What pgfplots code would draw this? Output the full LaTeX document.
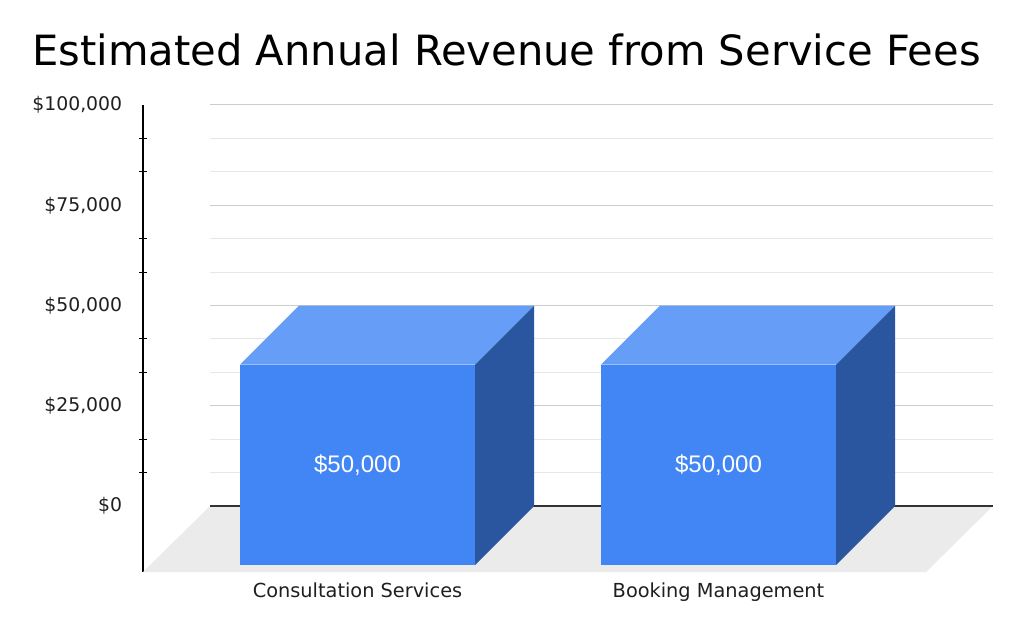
\documentclass[border=0pt]{standalone}
\usepackage{pgfplots}
\pgfplotsset{compat=1.18}
\usepackage{fontspec}
\setmainfont{DejaVu Sans}
\newfontfamily\barfont{Liberation Sans}
\definecolor{frontc}{HTML}{4285F4}
\definecolor{topc}{HTML}{669DF6}
\definecolor{sidec}{HTML}{2A56A0}
\definecolor{floorc}{HTML}{EBEBEB}
\definecolor{majgrid}{HTML}{CCCCCC}
\definecolor{mingrid}{HTML}{E6E6E6}
% projection: x = front-plane pixel column, d = depth (0 front, 1 back wall), z = value
\pgfplotsset{/pgfplots/table/proj/.style={x expr=\thisrow{x}+59*\thisrow{d}, y expr=\thisrow{z}-14713*(1-\thisrow{d}), row sep=\\}}
\begin{document}
\begin{tikzpicture}
% back wall with grid
\begin{axis}[
  at={(50.25pt,49.5pt)}, anchor=south west,
  scale only axis, width=587.25pt, height=300.75pt,
  xmin=210, xmax=993, ymin=0, ymax=100000,
  xtick=\empty, ytick={0,25000,50000,75000,100000}, minor y tick num=2,
  yticklabel={\relax}, yticklabel style={text opacity=0, opacity=0},
  axis line style={draw=none},
  major tick length=0pt, minor tick length=0pt,
  ymajorgrids, yminorgrids,
  major grid style={majgrid, line width=0.75pt},
  minor grid style={mingrid, line width=0.75pt},
  scaled y ticks=false,
]
\addplot[draw=none] coordinates {(210,0)};
\end{axis}
% main axis
\begin{axis}[
  at={(0pt,0pt)}, anchor=south west,
  scale only axis, width=637.5pt, height=350.25pt,
  xmin=143, xmax=993, ymin=-16459, ymax=100000,
  clip=false,
  axis y line*=left, axis x line*=bottom,
  x axis line style={draw=none},
  y axis line style={black, line width=1pt},
  xtick={357.5,718.5}, xticklabels={Consultation Services, Booking Management},
  ytick={0,25000,50000,75000,100000},
  yticklabels={{\$0},{\$25,000},{\$50,000},{\$75,000},{\$100,000}},
  minor y tick num=2,
  major tick length=0pt, minor tick length=6pt, tick align=center,
  minor tick style={black, line width=0.75pt},
  ticklabel style={text=black!88},
  yticklabel style={font=\fontsize{14.1pt}{16pt}\selectfont, anchor=east, inner sep=0pt, xshift=-15.45pt},
  xticklabel style={font=\fontsize{14.5pt}{16pt}\selectfont, anchor=north, inner sep=0pt, yshift=-8.25pt},
  scaled y ticks=false,
]
% floor
\addplot[fill=floorc, draw=none] coordinates {(143,-16459) (210,0) (993,0) (926,-16459)} -- cycle;
% baseline on back wall
\addplot[draw=black!80, line width=1pt] coordinates {(210,0) (993,0)};
% bar 1: Consultation Services, 50000
\addplot[fill=sidec, draw=none] table[proj] {x d z\\ 475 0 0\\ 475 1 0\\ 475 1 50000\\ 475 0 50000\\} -- cycle;
\addplot[fill=topc, draw=none] table[proj] {x d z\\ 240 0 50000\\ 475 0 50000\\ 475 1 50000\\ 240 1 50000\\} -- cycle;
\addplot[fill=frontc, draw=none] table[proj] {x d z\\ 240 0 0\\ 475 0 0\\ 475 0 50000\\ 240 0 50000\\} -- cycle;
% bar 2: Booking Management, 50000
\addplot[fill=sidec, draw=none] table[proj] {x d z\\ 836 0 0\\ 836 1 0\\ 836 1 50000\\ 836 0 50000\\} -- cycle;
\addplot[fill=topc, draw=none] table[proj] {x d z\\ 601 0 50000\\ 836 0 50000\\ 836 1 50000\\ 601 1 50000\\} -- cycle;
\addplot[fill=frontc, draw=none] table[proj] {x d z\\ 601 0 0\\ 836 0 0\\ 836 0 50000\\ 601 0 50000\\} -- cycle;
% value labels
\node[text=white, font=\barfont\fontsize{18pt}{20pt}\selectfont] at (axis cs:357.5,10300) {\$50,000};
\node[text=white, font=\barfont\fontsize{18pt}{20pt}\selectfont] at (axis cs:718.5,10300) {\$50,000};
% title
\node[anchor=base, font=\fontsize{31.25pt}{36pt}\selectfont] at (axis cs:506.5,109975) {Estimated Annual Revenue from Service Fees};
% picture extent
\path (axis cs:0,-31671) rectangle (axis cs:1024,126185);
\end{axis}
\end{tikzpicture}
\end{document}
